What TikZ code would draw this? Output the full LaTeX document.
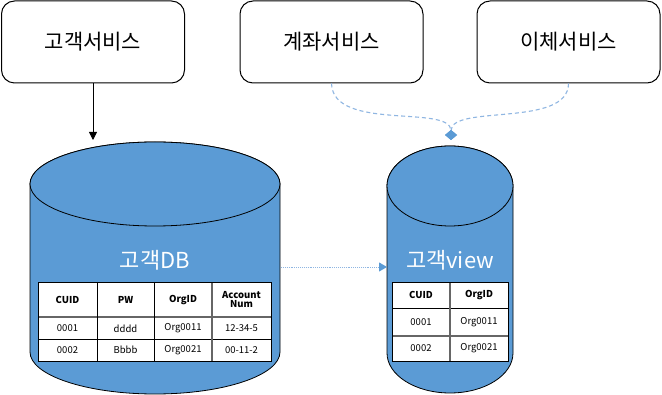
\documentclass[tikz,border=0pt]{standalone}
\usepackage{fontspec}
\setmainfont{Noto Sans CJK KR}
\usetikzlibrary{arrows.meta}
\definecolor{dbblue}{HTML}{5B9BD5}
\definecolor{linkblue}{HTML}{8FB6E2}
\begin{document}
\begin{tikzpicture}[x=1pt,y=-1pt,
  svcbox/.style={draw=black, line width=1pt, rounded corners=13pt, minimum width=183pt, minimum height=82pt, inner sep=0pt, font=\fontsize{21}{23}\selectfont},
  cyl/.style={fill=dbblue, draw=black, line width=0.8pt},
  dbtitle/.style={text=white, font=\fontsize{22}{24}\selectfont, inner sep=0pt},
  cell/.style={font=\fontsize{9.5}{10}\selectfont, inner sep=0pt, text=black, align=center},
  hcell/.style={cell, font=\bfseries\fontsize{9.5}{9}\selectfont},
  tabline/.style={draw=black, line width=0.9pt},
  headline/.style={draw=black!60, line width=1.6pt},
  dashlink/.style={draw=linkblue, line width=1.1pt, dash pattern=on 4pt off 3pt},
  dotlink/.style={draw=linkblue, line width=0.9pt, densely dotted},
]
\useasboundingbox (0,0) rectangle (662,395);
\fill[white] (0,0) rectangle (662,395);

% service boxes
\node[svcbox] (cs) at (93,42) {고객서비스};
\node[svcbox] (as) at (331.5,42) {계좌서비스};
\node[svcbox] (ts) at (568.5,42) {이체서비스};

% cylinder 1
\path[cyl] (30,184) -- (30,352) arc[start angle=180,end angle=360,x radius=125pt,y radius=42pt] -- (280,184) arc[start angle=0,end angle=180,x radius=125pt,y radius=42pt] -- cycle;
\path[cyl] (155,184) ellipse[x radius=125pt, y radius=42pt];
% cylinder 2
\path[cyl] (387,186) -- (387,353) arc[start angle=180,end angle=360,x radius=63pt,y radius=40pt] -- (513,186) arc[start angle=0,end angle=180,x radius=63pt,y radius=40pt] -- cycle;
\path[cyl] (450,186) ellipse[x radius=63pt, y radius=40pt];

\node[dbtitle] (db1) at (155,260) {고객DB};
\node[dbtitle] (db2) at (450,260) {고객view};

% table 1
\fill[white] (38,282) rectangle (271,361);
\draw[headline] (38,317) -- (271,317);
\draw[tabline] (38,339) -- (271,339);
\draw[tabline] (97,282) -- (97,361);
\draw[tabline] (154,282) -- (154,361);
\draw[headline, line width=1.2pt] (212,282) -- (212,361);
\draw[tabline] (38,282) rectangle (271,361);
\node[hcell] (a11) at (67.5,300) {CUID};
\node[hcell] (a12) at (125.5,300) {PW};
\node[hcell] (a13) at (183,300) {OrgID};
\node[hcell] (a14) at (241.5,299.5) {Account\\Num};
\node[cell] (a21) at (67.5,328) {0001};
\node[cell] (a22) at (125.5,328.5) {dddd};
\node[cell] (a23) at (183,328) {Org0011};
\node[cell] (a24) at (241.5,328) {12-34-5};
\node[cell] (a31) at (67.5,350) {0002};
\node[cell] (a32) at (125.5,350) {Bbbb};
\node[cell] (a33) at (183,350) {Org0021};
\node[cell] (a34) at (241.5,350) {00-11-2};

% table 2
\fill[white] (392,282) rectangle (508,361);
\draw[tabline] (392,308) -- (508,308);
\draw[headline, line width=1.2pt] (392,336) -- (508,336);
\draw[headline, line width=1.2pt] (450,282) -- (450,361);
\draw[tabline] (392,282) rectangle (508,361);
\node[hcell] (b11) at (421,295) {CUID};
\node[hcell] (b12) at (479,295) {OrgID};
\node[cell] (b21) at (421,322) {0001};
\node[cell] (b22) at (479,322) {Org0011};
\node[cell] (b31) at (421,348.5) {0002};
\node[cell] (b32) at (479,348.5) {Org0021};

% connectors
\coordinate (db1top) at (93,140);
\draw[line width=0.8pt, -{Triangle[length=8pt,width=8pt]}] (cs.south) -- (db1top);

\coordinate (db1r) at (281,267);
\coordinate (db2l) at (387,267);
\draw[dotlink, -{Triangle[length=8pt,width=9pt,color=dbblue,fill=dbblue]}] (db1r) -- (db2l);

\coordinate (db2top) at (451,140);
\draw[dashlink, -{Diamond[length=10pt,width=12pt,color=dbblue,fill=dbblue]}] (as.south) .. controls (333,132) and (451,104) .. (db2top);
\draw[dashlink, -{Diamond[length=10pt,width=12pt,color=dbblue,fill=dbblue]}] (ts.south) .. controls (568.5,128) and (451,104) .. (db2top);
\end{tikzpicture}
\end{document}
